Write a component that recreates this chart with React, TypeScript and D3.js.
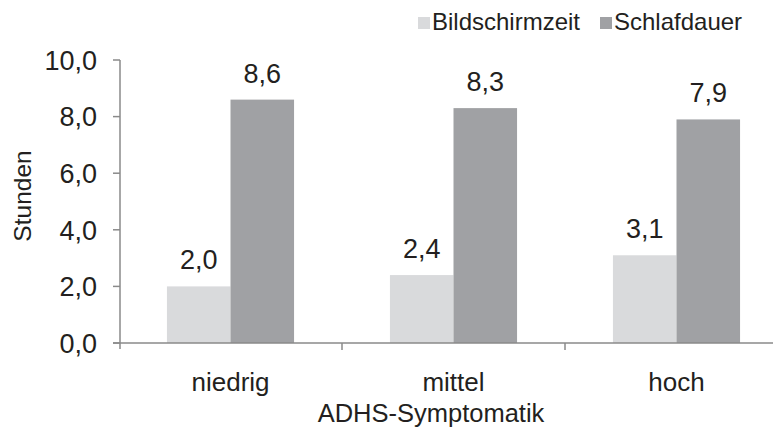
import React from "react";
import * as d3 from "d3";

const categories = ["niedrig", "mittel", "hoch"];
const seriesNames = ["Bildschirmzeit", "Schlafdauer"];
const bildschirmzeit = [2.0, 2.4, 3.1];
const schlafdauer = [8.6, 8.3, 7.9];
const yTicks = [0, 2, 4, 6, 8, 10];
const colors = ["#d9dadc", "#a0a1a4"];

const W = 773;
const H = 430;
const FONT = "'Liberation Sans', Arial, sans-serif";
const TEXT = "#231f20";
const AXIS = "#8a8a8a";

export default function App() {
  const x0 = d3.scaleBand<string>().domain(categories).range([119, 119 + 3 * 223]).padding(0);
  const bw = x0.bandwidth();
  const groupW = bw * 0.57;
  const x1 = d3
    .scaleBand<string>()
    .domain(seriesNames)
    .range([(bw - groupW) / 2, (bw + groupW) / 2])
    .padding(0);
  const y = d3.scaleLinear().domain([0, 10]).range([343, 60]);
  const fmt = (v: number) => v.toFixed(1).replace(".", ",");
  const series = [bildschirmzeit, schlafdauer];

  return (
    <svg
      width={W}
      height={H}
      style={{ position: "absolute", left: 0, top: 0, background: "#fff" }}
      fontFamily={FONT}
    >
      {/* bars */}
      {categories.map((c, ci) =>
        seriesNames.map((s, si) => {
          const v = series[si][ci];
          const bx = (x0(c) as number) + (x1(s) as number);
          return (
            <g key={c + s}>
              <rect x={bx} y={y(v)} width={x1.bandwidth()} height={y(0) - y(v)} fill={colors[si]} />
              <text
                x={bx + x1.bandwidth() / 2}
                y={y(v) - 17}
                textAnchor="middle"
                fontSize={27}
                fill={TEXT}
              >
                {fmt(v)}
              </text>
            </g>
          );
        })
      )}
      {/* y axis */}
      <line x1={120} x2={120} y1={y(10)} y2={y(0) + 6} stroke={AXIS} strokeWidth={1.5} />
      {yTicks.map((t) => (
        <g key={t}>
          <line x1={113} x2={120} y1={y(t)} y2={y(t)} stroke={AXIS} strokeWidth={1.5} />
          <text x={97} y={y(t)} dy="0.36em" textAnchor="end" fontSize={27} fill={TEXT}>
            {fmt(t)}
          </text>
        </g>
      ))}
      {/* x axis */}
      <line x1={113} x2={W} y1={y(0)} y2={y(0)} stroke={AXIS} strokeWidth={1.5} />
      {categories.slice(1).map((c) => (
        <line key={c} x1={x0(c) as number} x2={x0(c) as number} y1={y(0)} y2={y(0) + 7} stroke={AXIS} strokeWidth={1.5} />
      ))}
      {categories.map((c) => (
        <text key={c} x={(x0(c) as number) + bw / 2} y={391} textAnchor="middle" fontSize={26} fill={TEXT}>
          {c}
        </text>
      ))}
      <text x={431} y={422} textAnchor="middle" fontSize={25.5} fill={TEXT}>
        ADHS-Symptomatik
      </text>
      <text
        transform={`translate(31,196) rotate(-90)`}
        textAnchor="middle"
        fontSize={24.5}
        fill={TEXT}
      >
        Stunden
      </text>
      {/* legend */}
      <g>
        <rect x={418} y={17} width={12} height={12} fill={colors[0]} />
        <text x={432} y={30} fontSize={24} fill={TEXT}>{seriesNames[0]}</text>
        <rect x={600} y={17} width={12} height={12} fill={colors[1]} />
        <text x={614} y={30} fontSize={24} fill={TEXT}>{seriesNames[1]}</text>
      </g>
    </svg>
  );
}
